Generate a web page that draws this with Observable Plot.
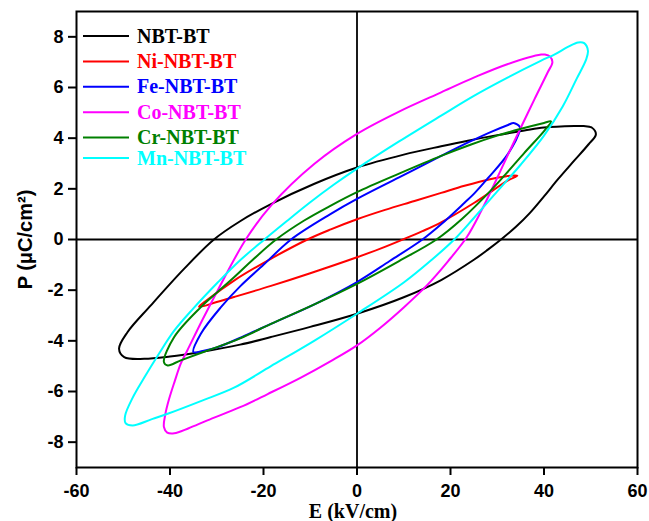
<!DOCTYPE html>
<html><head><meta charset="utf-8">
<script src="https://cdn.jsdelivr.net/npm/d3@7"></script>
<script src="https://cdn.jsdelivr.net/npm/@observablehq/plot@0.6"></script>
<style>body{margin:0;background:#fff}#chart{width:649px;height:521px}</style>
</head><body><div id="chart"></div>
<script>
const seriesNames = ["NBT-BT","Ni-NBT-BT","Fe-NBT-BT","Co-NBT-BT","Cr-NBT-BT","Mn-NBT-BT"];
const seriesColors = ["#000000","#ff0000","#0000ff","#ff00ff","#008000","#00ffff"];
const xTicks = [-60,-40,-20,0,20,40,60];
const yTicks = [-8,-6,-4,-2,0,2,4,6,8];
const xLabel = "E (kV/cm)";
const yLabel = "P (\u03bcC/cm\u00b2)";

// [E (kV/cm), P (uC/cm2)] loop points: upper branch (falling E) then lower branch (rising E)
const nbtLoop = [[51.1,4.15],[50.2,4.42],[48.5,4.48],[46.5,4.48],[40,4.42],[35.8,4.3],[30,4.12],[23.7,3.9],[18,3.68],[10,3.35],[0,2.84],[-9.1,2.2],[-18.4,1.4],[-25,0.72],[-30.6,0],[-37,-1.16],[-44.1,-2.6],[-49.1,-3.66],[-50.9,-4.31],[-49.8,-4.64],[-45.5,-4.71],[-40,-4.62],[-33.4,-4.44],[-25,-4.15],[-18.4,-3.85],[-10,-3.45],[0,-2.93],[10,-2.28],[18,-1.6],[25,-0.8],[28,-0.4],[31,0.03],[34,0.5],[37,1.05],[40,1.7],[43,2.38],[46.5,3.12],[49.5,3.75]];
const niLoop = [[34.3,2.52],[32,2.5],[28.7,2.39],[23,2.12],[18,1.84],[12.3,1.52],[6,1.17],[0,0.8],[-5.6,0.4],[-10.6,0],[-19.1,-0.83],[-26.3,-1.62],[-32,-2.38],[-33.8,-2.66],[-30,-2.47],[-26.3,-2.27],[-18.4,-1.83],[-10,-1.33],[0,-0.7],[5,-0.36],[9.8,0],[14,0.33],[18,0.68],[25.1,1.45],[32.3,2.33]];
const feLoop = [[34.8,4.45],[33.5,4.6],[32.3,4.52],[28.7,4.25],[24,3.85],[18,3.3],[9,2.45],[0,1.6],[-5.6,1.01],[-14.1,0],[-20,-1.0],[-25,-1.85],[-29.1,-2.67],[-33.4,-3.72],[-35,-4.44],[-33,-4.4],[-29.8,-4.25],[-24,-3.8],[-18.4,-3.33],[-9,-2.55],[0,-1.68],[7,-0.85],[14,0],[18,0.6],[23,1.45],[25.1,1.82],[28,2.42],[32.3,3.38],[34.8,4.3]];
const coLoop = [[41.8,7.0],[41.3,7.22],[40.2,7.3],[39.4,7.3],[32.3,6.93],[25.1,6.4],[18,5.81],[9,5.05],[0,4.17],[-9.1,2.99],[-18.4,1.34],[-23.8,0],[-29.8,-2.01],[-33,-3.15],[-36.3,-4.38],[-37.7,-4.9],[-39,-5.6],[-40.2,-6.3],[-41,-6.9],[-41.3,-7.4],[-40.6,-7.62],[-39.1,-7.65],[-36,-7.45],[-32,-7.14],[-25,-6.62],[-19.1,-6.1],[-12,-5.45],[-5.6,-4.8],[0,-4.18],[5,-3.48],[10,-2.68],[15,-1.8],[19.5,-0.85],[23.5,0.1],[26.5,1.1],[29.4,2.2],[32.3,3.35],[35,4.4],[38,5.55],[40.8,6.6]];
const crLoop = [[41.5,4.66],[40,4.6],[35.1,4.37],[30,4.1],[24.4,3.75],[18,3.3],[9,2.6],[0,1.87],[-5.6,1.34],[-11.3,0.75],[-17.3,0],[-22,-0.75],[-26.3,-1.49],[-30,-2.1],[-33.4,-2.67],[-39.1,-3.85],[-41.3,-4.84],[-40.5,-4.97],[-37.7,-4.77],[-33,-4.45],[-25,-3.9],[-18.4,-3.33],[-9,-2.55],[0,-1.75],[9,-0.85],[17,0],[22.5,0.82],[28.7,1.95],[32,2.62],[35.8,3.42],[40.1,4.3]];
const mnLoop = [[49.4,7.45],[48.6,7.75],[47.3,7.78],[45.1,7.6],[42.2,7.3],[39.4,7.06],[32.3,6.4],[25.1,5.68],[18,4.89],[9,3.87],[0,2.8],[-5,2.16],[-10,1.47],[-15,0.73],[-19.8,0],[-25,-0.82],[-29.8,-1.7],[-35,-2.72],[-39.1,-3.6],[-42.5,-4.55],[-45.5,-5.45],[-48,-6.25],[-49.6,-6.95],[-49.5,-7.25],[-48,-7.34],[-44,-7.1],[-40.5,-6.88],[-33,-6.35],[-26.3,-5.85],[-18.4,-5.0],[-9,-3.98],[0,-2.93],[10,-1.7],[16,-0.8],[20.8,0],[25,0.85],[30,1.9],[35,2.95],[40,4.1],[44,5.25],[47,6.35],[49,7.1]];

const loops = [nbtLoop, niLoop, feLoop, coLoop, crLoop, mnLoop];
const rows = loops.flatMap((pts, i) => pts.map(([E, P]) => ({series: seriesNames[i], E, P})));

const sans = "'Liberation Sans', Arial, sans-serif";
const serif = "'Liberation Serif', 'Times New Roman', serif";

const plot = Plot.plot({
  width: 649, height: 521,
  marginLeft: 76, marginTop: 11, marginRight: 12, marginBottom: 54,
  style: {fontFamily: sans, background: "white", color: "black"},
  x: {domain: [-60, 60]},
  y: {domain: [-9, 9]},
  color: {domain: seriesNames, range: seriesColors},
  marks: [
    Plot.ruleX([0], {stroke: "black", strokeWidth: 1.8}),
    Plot.ruleY([0], {stroke: "black", strokeWidth: 1.8}),
    Plot.line(rows, {x: "E", y: "P", z: "series", stroke: "series", strokeWidth: 2, curve: "catmull-rom-closed"}),
    Plot.frame({stroke: "black", strokeWidth: 2}),
    Plot.axisX(xTicks, {tickSize: 8, tickPadding: 9, fontSize: 18, fontWeight: "bold", strokeWidth: 2, label: null, tickFormat: d => String(d)}),
    Plot.axisY(yTicks, {tickSize: 8, tickPadding: 5, fontSize: 18, fontWeight: "bold", strokeWidth: 2, label: null, tickFormat: d => String(d)}),
    Plot.text([yLabel], {frameAnchor: "left", dx: -51, rotate: -90, textAnchor: "middle", lineAnchor: "middle", fontSize: 20, fontWeight: "bold", fontFamily: sans}),
    Plot.text([xLabel], {frameAnchor: "bottom", dx: -4, dy: 44, textAnchor: "middle", lineAnchor: "middle", fontSize: 20, fontWeight: "bold", fontFamily: serif})
  ]
});

// legend (layout in pixels)
const svg = d3.select(plot);
const lg = svg.append("g").attr("text-anchor", "start");
const rowY = i => 36 + i * 25.4 - (i === 5 ? 5 : 0);
seriesNames.forEach((name, i) => {
  lg.append("line").attr("x1", 83).attr("x2", 129).attr("y1", rowY(i)).attr("y2", rowY(i))
    .attr("stroke", seriesColors[i]).attr("stroke-width", 2);
  lg.append("text").attr("x", 137).attr("y", rowY(i)).attr("dy", "0.33em")
    .attr("text-anchor", "start")
    .attr("fill", seriesColors[i]).attr("font-family", serif).attr("font-weight", "bold")
    .attr("font-size", 20).text(name);
});

document.getElementById("chart").appendChild(plot);
</script>
</body></html>
